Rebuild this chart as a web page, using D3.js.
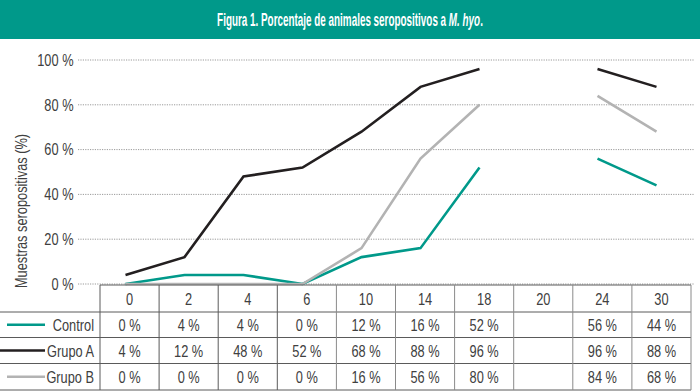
<!DOCTYPE html>
<html><head><meta charset="utf-8">
<script src="https://cdn.jsdelivr.net/npm/d3@7"></script>
<style>
body{margin:0;background:#fff;}
svg{display:block;}
text{font-family:"Liberation Sans",Arial,sans-serif;}
</style></head>
<body>
<svg id="c" width="700" height="392"></svg>
<script>
const categories = ["0","2","4","6","10","14","18","20","24","30"];
const control = [0,4,4,0,12,16,52,null,56,44];
const grupoA  = [4,12,48,52,68,88,96,null,96,88];
const grupoB  = [0,0,0,0,16,56,80,null,84,68];
const seriesNames = ["Control","Grupo A","Grupo B"];
const seriesColors = ["#00998a","#231f20","#b3b3b3"];
const yTicks = [0,20,40,60,80,100];
const title = "Figura 1. Porcentaje de animales seropositivos a ";
const titleItalic = "M. hyo";
const yTitle = "Muestras seropositivas (%)";

const series = [control, grupoA, grupoB];
const svg = d3.select("#c");
const textColor = "#404040";
const SX = 0.8;   // horizontal condensing
const FS = 16;

function ctext(parent, x, y, str, anchor, opts={}) {
  const g = parent.append("g").attr("transform", `translate(${x},${y}) ${opts.rotate?`rotate(${opts.rotate})`:""} scale(${opts.sx||SX},1)`);
  return g.append("text").attr("x",0).attr("y",0).attr("text-anchor",anchor)
    .attr("font-size",opts.fs||FS).attr("fill",opts.fill||textColor).text(str);
}

// Title band
svg.append("rect").attr("x",0).attr("y",0).attr("width",700).attr("height",39).attr("fill","#00998a");
const tg0 = svg.append("g");
const t = tg0.append("text").attr("x",0).attr("y",0).attr("text-anchor","middle")
  .attr("fill","#fff").attr("font-weight","bold").attr("font-size",17.5);
t.append("tspan").text(title);
t.append("tspan").attr("font-style","italic").text(titleItalic);
t.append("tspan").text(".");
const tw = t.node().getComputedTextLength();
tg0.attr("transform",`translate(350,26) scale(${266/tw},1)`);

// Scales
const y = d3.scaleLinear().domain([0,100]).range([284,60]);
const xTable = d3.scaleBand().domain(categories).range([100,691]);
const xLine = d3.scaleBand().domain(categories).range([96,686]);
const xc = c => xLine(c) + xLine.bandwidth()/2;

// Grid
svg.append("g").selectAll("line").data(yTicks).join("line")
  .attr("x1",78).attr("x2",694).attr("y1",d=>y(d)).attr("y2",d=>y(d))
  .attr("stroke","#9a9a9a").attr("stroke-width",1).attr("stroke-dasharray","1.2,1.2");
const yl = svg.append("g");
yTicks.forEach(v => ctext(yl, 73.5, y(v)+5.8, v + " %", "end"));

// y title
ctext(svg, 27, 211, yTitle, "middle", {rotate:-90});

// Lines
const line = d3.line().defined(d => d.v !== null).x(d => xc(d.c)).y(d => y(d.v));
series.forEach((s,i) => {
  svg.append("path").datum(categories.map((c,j)=>({c, v:s[j]})))
    .attr("d", line).attr("fill","none").attr("stroke",seriesColors[i])
    .attr("stroke-width",2.6).attr("stroke-linejoin","miter");
});

// Table
const rowY = [285,312,337.5,363.5,390];
const tg = svg.append("g");
const border = "#5a5a5a";
tg.append("line").attr("x1",100).attr("x2",691).attr("y1",rowY[0]).attr("y2",rowY[0]).attr("stroke",border);
for (let r=1;r<rowY.length;r++){
  tg.append("line").attr("x1",0).attr("x2",691).attr("y1",rowY[r]).attr("y2",rowY[r]).attr("stroke",border);
}
const vx = categories.map(c => xTable(c)).concat([xTable.range()[1]]);
tg.selectAll("line.v").data(vx).join("line").attr("class","v")
  .attr("x1",d=>d).attr("x2",d=>d).attr("y1",rowY[0]).attr("y2",rowY[4])
  .attr("stroke",(d,i)=> i<4 ? border : "#8a8a8a");
categories.forEach(c => ctext(tg, xTable(c)+xTable.bandwidth()/2, (rowY[0]+rowY[1])/2+6, c, "middle"));
series.forEach((s,i)=>{
  const cy = (rowY[i+1]+rowY[i+2])/2;
  tg.append("line").attr("x1", i===1?0:7).attr("x2",45).attr("y1",cy).attr("y2",cy)
    .attr("stroke",seriesColors[i]).attr("stroke-width",2.6);
  ctext(tg, 94, cy+6, seriesNames[i], "end");
  categories.forEach((c,j) => {
    if (s[j] !== null) ctext(tg, xTable(c)+xTable.bandwidth()/2, cy+6, s[j]+" %", "middle");
  });
});
</script>
</body></html>
